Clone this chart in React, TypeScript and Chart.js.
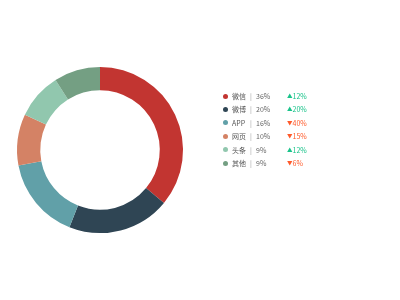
import React, { useEffect, useRef } from "react";
import { Chart, registerables } from "chart.js";

Chart.register(...registerables);

const categories = ["微信", "微博", "APP", "网页", "头条", "其他"];
const shares = [36, 20, 16, 10, 9, 9];
const changes = [12, 20, -40, -15, 12, -6];
const colors = ["#c23531", "#2f4554", "#61a0a8", "#d48265", "#91c7ae", "#749f83"];

export default function App() {
  const ref = useRef<HTMLCanvasElement>(null);
  useEffect(() => {
    document.body.style.margin = "0";
    const chart = new Chart(ref.current!, {
      type: "doughnut",
      data: {
        labels: categories,
        datasets: [
          {
            data: shares,
            backgroundColor: colors,
            borderWidth: 0,
          },
        ],
      },
      options: {
        animation: false,
        responsive: false,
        cutout: "72%",
        layout: { padding: 17 },
        plugins: { legend: { display: false }, tooltip: { enabled: false } },
      },
    });
    return () => chart.destroy();
  }, []);

  const font = '"Noto Sans CJK SC", "Noto Sans", sans-serif';
  return (
    <div style={{ position: "absolute", left: 0, top: 0, width: 400, height: 300, background: "#fff" }}>
      <canvas ref={ref} width={200} height={300} style={{ position: "absolute", left: 0, top: 0 }} />
      {categories.map((c, i) => {
        const top = 96 + i * 13.4 - 6;
        const up = changes[i] >= 0;
        return (
          <div key={c} style={{ position: "absolute", left: 0, top, height: 12, width: 400, fontFamily: font, fontSize: 7, lineHeight: "12px" }}>
            <span style={{ position: "absolute", left: 222.5, top: 3.5, width: 5, height: 5, borderRadius: "50%", background: colors[i] }} />
            <span style={{ position: "absolute", left: 232, color: "#555" }}>{c}</span>
            <span style={{ position: "absolute", left: 250, color: "#999" }}>|</span>
            <span style={{ position: "absolute", left: 256, color: "#666" }}>{shares[i]}%</span>
            <span style={{ position: "absolute", left: 287, color: up ? "#19c38a" : "#ff5a2a" }}>
              <span style={{ fontSize: 5.5, verticalAlign: "1px" }}>{up ? "▲" : "▼"}</span>
              {Math.abs(changes[i])}%
            </span>
          </div>
        );
      })}
    </div>
  );
}
